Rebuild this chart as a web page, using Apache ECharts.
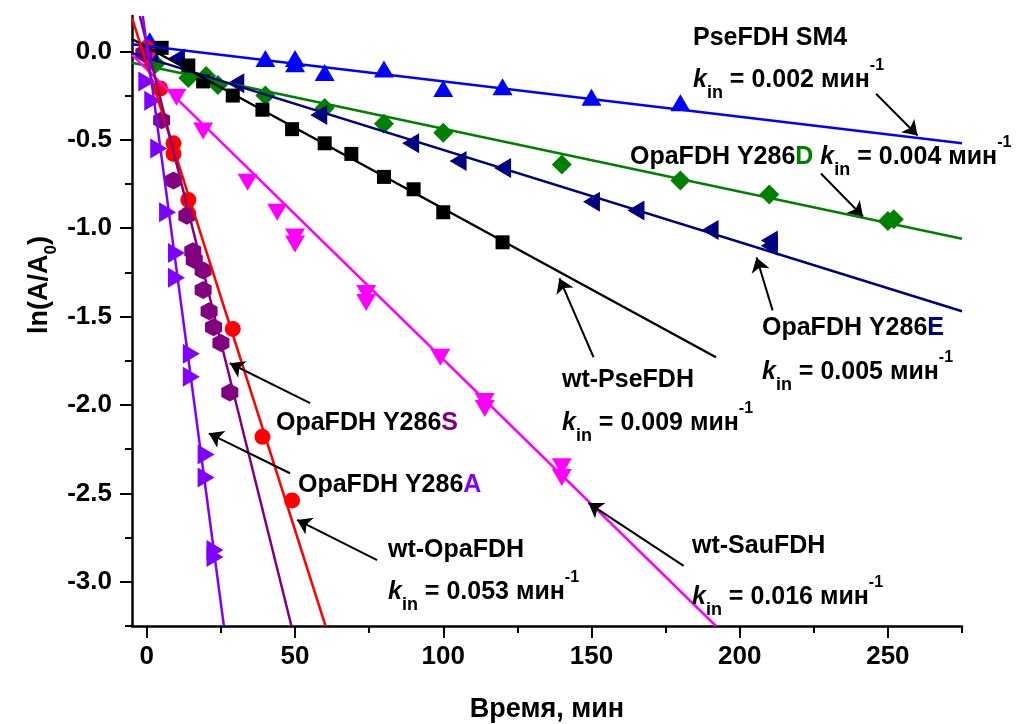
<!DOCTYPE html>
<html>
<head>
<meta charset="utf-8">
<script src="https://cdn.jsdelivr.net/npm/echarts@6/dist/echarts.min.js"></script>
<style>
html,body{margin:0;padding:0;background:#fff}
#main{width:1022px;height:724px}
</style>
</head>
<body>
<div id="main"></div>
<script>
// измерения: время (мин) и ln(A/A0)
var sm4Time = [1, 40, 50, 50, 60, 80, 100, 120, 150, 180];
var sm4Ln   = [0.06, -0.04, -0.04, -0.07, -0.12, -0.10, -0.21, -0.20, -0.26, -0.29];

var y286dTime = [3, 14, 20, 24, 40, 60, 80, 100, 140, 180, 210, 250, 252];
var y286dLn   = [-0.07, -0.15, -0.14, -0.19, -0.25, -0.32, -0.41, -0.46, -0.64, -0.73, -0.81, -0.96, -0.95];

var y286eTime = [1, 10, 30, 58, 89, 105, 120, 150, 165, 190, 210, 210];
var y286eLn   = [-0.01, -0.04, -0.18, -0.36, -0.52, -0.62, -0.66, -0.85, -0.90, -1.01, -1.07, -1.10];

var wtPseTime = [5, 14, 19, 29, 39, 49, 60, 69, 80, 90, 100, 120];
var wtPseLn   = [0.02, -0.08, -0.17, -0.25, -0.33, -0.44, -0.52, -0.58, -0.71, -0.78, -0.91, -1.08];

var wtSauTime = [0, 10, 19, 34, 44, 50, 50, 74, 74, 99, 114, 114, 140, 140];
var wtSauLn   = [-0.05, -0.26, -0.45, -0.74, -0.91, -1.05, -1.09, -1.37, -1.42, -1.73, -1.98, -2.02, -2.35, -2.41];

var wtOpaTime = [0, 4.5, 9, 9, 14, 14, 19, 29, 39, 49];
var wtOpaLn   = [0.02, -0.21, -0.52, -0.58, -0.84, -0.92, -1.24, -1.57, -2.18, -2.54];

var y286sTime = [-1, 5, 9, 13.5, 15.5, 16, 19, 19, 21, 22.5, 25, 28];
var y286sLn   = [-0.01, -0.39, -0.73, -0.93, -1.13, -1.18, -1.24, -1.35, -1.47, -1.56, -1.65, -1.93];

var y286aTime = [0, 2, 4, 7, 10, 10, 15, 15, 20, 20, 23, 23];
var y286aLn   = [-0.17, -0.28, -0.55, -0.91, -1.14, -1.28, -1.71, -1.84, -2.28, -2.41, -2.82, -2.86];

// прямые (линейная аппроксимация): концы
var sm4Fit   = [[-5, 0.04], [275, -0.52]];
var y286dFit = [[-5, -0.064], [275, -1.06]];
var y286eFit = [[-5, -0.01], [275, -1.47]];
var wtPseFit = [[-5, 0.07], [192, -1.73]];
var wtSauFit = [[-5, -0.02], [192, -3.25]];
var wtOpaFit = [[-5, 0.19], [60.3, -3.25]];
var y286sFit = [[-2.36, 0.2], [48.8, -3.25]];
var y286aFit = [[-1.35, 0.2], [26.0, -3.25]];

// деления осей
var xTicks = [0, 50, 100, 150, 200, 250];
var xMinor = [25, 75, 125, 175, 225, 275];
var yTicks = [0, -0.5, -1.0, -1.5, -2.0, -2.5, -3.0];
var yMinor = [-0.25, -0.75, -1.25, -1.75, -2.25, -2.75, -3.25];

// стрелки: [x1, y1, x2, y2] (от подписи к линии)
var arrows = [
	[246, -0.24, 260, -0.476],
	[227.4, -0.691, 241.6, -0.934],
	[211.1, -1.465, 205.7, -1.166],
	[150.7, -1.73, 139.2, -1.284],
	[55.1, -1.99, 28.0, -1.764],
	[48.3, -2.386, 20.9, -2.16],
	[77.7, -2.877, 50.7, -2.65],
	[181.1, -2.91, 149.0, -2.555]
];

var FONT = '"Liberation Sans", Arial, Helvetica, sans-serif';

function zip(xs, ys){
	var out = [];
	for(var i=0;i<xs.length;i++) out.push([xs[i], ys[i]]);
	return out;
}

var hexagon = 'path://M0,-10L8.66,-5L8.66,5L0,10L-8.66,5L-8.66,-5Z';

function pts(name, xs, ys, color, symbol, size, rotate){
	return {
		name: name, type: 'scatter', data: zip(xs, ys),
		symbol: symbol, symbolSize: size, symbolRotate: rotate || 0,
		itemStyle: {color: color, opacity: 1},
		z: 3, silent: true, animation: false
	};
}
function fit(name, d, color){
	return {
		name: name, type: 'line', data: d, symbol: 'none',
		lineStyle: {color: color, width: 2.5},
		z: 4, silent: true, animation: false, clip: true
	};
}

var rich = {
	k: {fontStyle: 'italic', fontWeight: 'bold', fontSize: 25, fontFamily: FONT, fill: '#000'},
	s: {fontWeight: 'bold', fontSize: 18, fontFamily: FONT, fill: '#000', verticalAlign: 'bottom'},
	p: {fontWeight: 'bold', fontSize: 16, fontFamily: FONT, fill: '#000', verticalAlign: 'top'},
	m: {fontWeight: 'bold', fontSize: 25, fontFamily: FONT, fill: '#000'},
	cD: {fontWeight: 'bold', fontSize: 25, fontFamily: FONT, fill: '#008000'},
	cE: {fontWeight: 'bold', fontSize: 25, fontFamily: FONT, fill: '#000080'},
	cS: {fontWeight: 'bold', fontSize: 25, fontFamily: FONT, fill: '#800080'},
	cA: {fontWeight: 'bold', fontSize: 25, fontFamily: FONT, fill: '#8000ff'}
};
function kin(v){ return '{k|k}{s|in}{m| = ' + v + ' мин}{p|-1}'; }
function txt(x, y, text){
	return {
		type: 'text', x: x, y: y, silent: true, z: 10,
		style: {
			text: text, rich: rich, fontFamily: FONT, fontSize: 25, fontWeight: 'bold',
			fill: '#000', lineHeight: 44, align: 'left', verticalAlign: 'middle'
		}
	};
}

var chart = echarts.init(document.getElementById('main'), null, {renderer: 'canvas'});

var axisFont = {fontFamily: FONT, fontSize: 26, fontWeight: 'bold', color: '#000'};

var option = {
	backgroundColor: '#fff',
	animation: false,
	grid: [
		{left: 132, right: 60, top: 16, bottom: 98},
		{left: 132, right: 60, top: 16, bottom: 98}
	],
	xAxis: [
		{
			type: 'value', gridIndex: 0, min: -5, max: 275,
			axisLine: {onZero: false, lineStyle: {color: '#000', width: 2.5}},
			axisTick: {show: true, inside: false, length: 12, lineStyle: {width: 2, color: '#000'}, customValues: xTicks},
			axisLabel: Object.assign({margin: 18, customValues: xTicks}, axisFont),
			splitLine: {show: false}
		},
		{
			type: 'value', gridIndex: 1, min: -5, max: 275,
			axisLine: {show: false, onZero: false},
			axisTick: {show: true, inside: false, length: 7, lineStyle: {width: 2, color: '#000'}, customValues: xMinor},
			axisLabel: {show: false},
			splitLine: {show: false}
		}
	],
	yAxis: [
		{
			type: 'value', gridIndex: 0, min: -3.25, max: 0.2,
			axisLine: {show: true, onZero: false, lineStyle: {color: '#000', width: 2.5}},
			axisTick: {show: true, inside: false, length: 12, lineStyle: {width: 2, color: '#000'}, customValues: yTicks},
			axisLabel: Object.assign({
				margin: 20, customValues: yTicks,
				formatter: function(v){ return v.toFixed(1); }
			}, axisFont),
			splitLine: {show: false}
		},
		{
			type: 'value', gridIndex: 1, min: -3.25, max: 0.2,
			axisLine: {show: false, onZero: false},
			axisTick: {show: true, inside: false, length: 7, lineStyle: {width: 2, color: '#000'}, customValues: yMinor},
			axisLabel: {show: false},
			splitLine: {show: false}
		}
	],
	series: [
		pts('PseFDH SM4', sm4Time, sm4Ln, '#0000ff', 'triangle', [20, 17]),
		pts('OpaFDH Y286D', y286dTime, y286dLn, '#008000', 'diamond', [20, 20]),
		pts('OpaFDH Y286E', y286eTime, y286eLn, '#000080', 'triangle', [20, 17], 90),
		pts('wt-PseFDH', wtPseTime, wtPseLn, '#000000', 'rect', [14, 14]),
		pts('wt-SauFDH', wtSauTime, wtSauLn, '#ff00ff', 'triangle', [20, 17], 180),
		pts('wt-OpaFDH', wtOpaTime, wtOpaLn, '#ff0000', 'circle', [16, 16]),
		pts('OpaFDH Y286S', y286sTime, y286sLn, '#800080', hexagon, [17, 18]),
		pts('OpaFDH Y286A', y286aTime, y286aLn, '#8000ff', 'triangle', [20, 17], -90),
		Object.assign(fit('fit SM4', sm4Fit, '#0000ff'), {
			markLine: {
				silent: true, animation: false,
				symbol: ['none', 'arrow'], symbolSize: 14,
				label: {show: false},
				lineStyle: {color: '#000', width: 2, type: 'solid'},
				emphasis: {disabled: true},
				data: arrows.map(function(a){
					return [{coord: [a[0], a[1]]}, {coord: [a[2], a[3]]}];
				})
			}
		}),
		fit('fit Y286D', y286dFit, '#008000'),
		fit('fit Y286E', y286eFit, '#000080'),
		fit('fit wt-PseFDH', wtPseFit, '#000000'),
		fit('fit wt-SauFDH', wtSauFit, '#ff00ff'),
		fit('fit wt-OpaFDH', wtOpaFit, '#ff0000'),
		fit('fit Y286S', y286sFit, '#800080'),
		fit('fit Y286A', y286aFit, '#8000ff')
	],
	graphic: [
		txt(693, 38, '{m|PseFDH SM4}'),
		txt(693, 80, kin('0.002')),
		txt(630, 157, '{m|OpaFDH Y286}{cD|D}{m| }' + kin('0.004')),
		txt(762, 328, '{m|OpaFDH Y286}{cE|E}'),
		txt(762, 372, kin('0.005')),
		txt(562, 380, '{m|wt-PseFDH}'),
		txt(562, 423, kin('0.009')),
		txt(276, 423, '{m|OpaFDH Y286}{cS|S}'),
		txt(298, 485, '{m|OpaFDH Y286}{cA|A}'),
		txt(388, 550, '{m|wt-OpaFDH}'),
		txt(388, 592, kin('0.053')),
		txt(692, 546, '{m|wt-SauFDH}'),
		txt(692, 597, kin('0.016')),
		{
			type: 'text', x: 547, y: 710, silent: true,
			style: {text: 'Время, мин', fontFamily: FONT, fontSize: 27, fontWeight: 'bold', fill: '#000', align: 'center', verticalAlign: 'middle'}
		},
		{
			type: 'text', x: 40, y: 285, rotation: Math.PI / 2, silent: true,
			style: {
				text: '{t|ln(A/A}{u|0}{t|)}', lineHeight: 40, align: 'center', verticalAlign: 'middle',
				rich: {
					t: {fontFamily: FONT, fontSize: 27, fontWeight: 'bold', fill: '#000'},
					u: {fontFamily: FONT, fontSize: 17, fontWeight: 'bold', fill: '#000', verticalAlign: 'bottom'}
				}
			}
		}
	]
};

chart.setOption(option);
</script>
</body>
</html>
